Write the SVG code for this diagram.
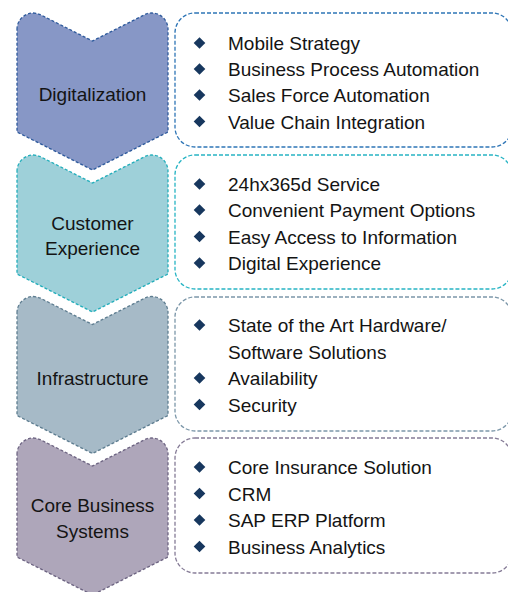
<svg xmlns="http://www.w3.org/2000/svg" width="508" height="592" viewBox="0 0 508 592">
<style>
.chev{stroke-width:1.3;stroke-dasharray:3 2}
.box{fill:#ffffff;stroke-width:1.3;stroke-dasharray:4 2}
.lbl{font-family:"Liberation Sans",Arial,sans-serif;font-size:19px;fill:#141414;text-anchor:middle}
.item{font-family:"Liberation Sans",Arial,sans-serif;font-size:19px;fill:#141414}
.bul{fill:#17375E}
</style>
<defs>
<path id="chevShape" d="M17,29.2 A16.2,16.2 0 0 1 40.4,14.7 L92.5,41 L144.6,14.7 A16.2,16.2 0 0 1 168,29.2 L168,132 L92.5,170 L17,132 Z"/>
<polygon id="dia" points="0,-5.8 5.8,0 0,5.8 -5.8,0"/>
</defs>
<g id="connectors"></g>

<g id="digitalization">
<use href="#chevShape" class="chev" fill="#8797C6" stroke="#2E5A9C"/>
<text class="lbl" x="92.5" y="101">Digitalization</text>
</g>
<g id="digitalization-items">
<rect class="box" x="175" y="13" width="337" height="134" rx="20" stroke="#2E75B6"/>
<use href="#dia" class="bul" x="199.5" y="43"/>
<use href="#dia" class="bul" x="199.5" y="69"/>
<use href="#dia" class="bul" x="199.5" y="95"/>
<use href="#dia" class="bul" x="199.5" y="121.5"/>
<text class="item" x="228" y="50">Mobile Strategy</text>
<text class="item" x="228" y="76">Business Process Automation</text>
<text class="item" x="228" y="102">Sales Force Automation</text>
<text class="item" x="228" y="128.5">Value Chain Integration</text>
</g>

<g id="customer-experience" transform="translate(0,142)">
<use href="#chevShape" class="chev" fill="#9ED0D9" stroke="#23AEBB"/>
<text class="lbl" x="92.5" y="88">Customer</text>
<text class="lbl" x="92.5" y="113">Experience</text>
</g>
<g id="customer-experience-items" transform="translate(0,142)">
<rect class="box" x="175" y="13" width="337" height="134" rx="20" stroke="#27B4C4"/>
<use href="#dia" class="bul" x="199.5" y="42"/>
<use href="#dia" class="bul" x="199.5" y="68"/>
<use href="#dia" class="bul" x="199.5" y="94.5"/>
<use href="#dia" class="bul" x="199.5" y="121"/>
<text class="item" x="228" y="49">24hx365d Service</text>
<text class="item" x="228" y="75">Convenient Payment Options</text>
<text class="item" x="228" y="101.5">Easy Access to Information</text>
<text class="item" x="228" y="128">Digital Experience</text>
</g>

<g id="infrastructure" transform="translate(0,283.5)">
<use href="#chevShape" class="chev" fill="#A6BAC7" stroke="#5E7D90"/>
<text class="lbl" x="92.5" y="101.5">Infrastructure</text>
</g>
<g id="infrastructure-items" transform="translate(0,284)">
<rect class="box" x="175" y="13" width="337" height="134" rx="20" stroke="#7C97A9"/>
<use href="#dia" class="bul" x="199.5" y="41"/>
<use href="#dia" class="bul" x="199.5" y="94"/>
<use href="#dia" class="bul" x="199.5" y="120.5"/>
<text class="item" x="228" y="48">State of the Art Hardware/</text>
<text class="item" x="228" y="75">Software Solutions</text>
<text class="item" x="228" y="101">Availability</text>
<text class="item" x="228" y="127.5">Security</text>
</g>

<g id="core-business-systems" transform="translate(0,425)">
<use href="#chevShape" class="chev" fill="#AEA6BA" stroke="#6D6482"/>
<text class="lbl" x="92.5" y="86.5">Core Business</text>
<text class="lbl" x="92.5" y="113">Systems</text>
</g>
<g id="core-business-systems-items" transform="translate(0,425)">
<rect class="box" x="175" y="13" width="337" height="135" rx="20" stroke="#857B96"/>
<use href="#dia" class="bul" x="199.5" y="42"/>
<use href="#dia" class="bul" x="199.5" y="68.5"/>
<use href="#dia" class="bul" x="199.5" y="95"/>
<use href="#dia" class="bul" x="199.5" y="121.5"/>
<text class="item" x="228" y="49">Core Insurance Solution</text>
<text class="item" x="228" y="75.5">CRM</text>
<text class="item" x="228" y="102">SAP ERP Platform</text>
<text class="item" x="228" y="128.5">Business Analytics</text>
</g>
</svg>
